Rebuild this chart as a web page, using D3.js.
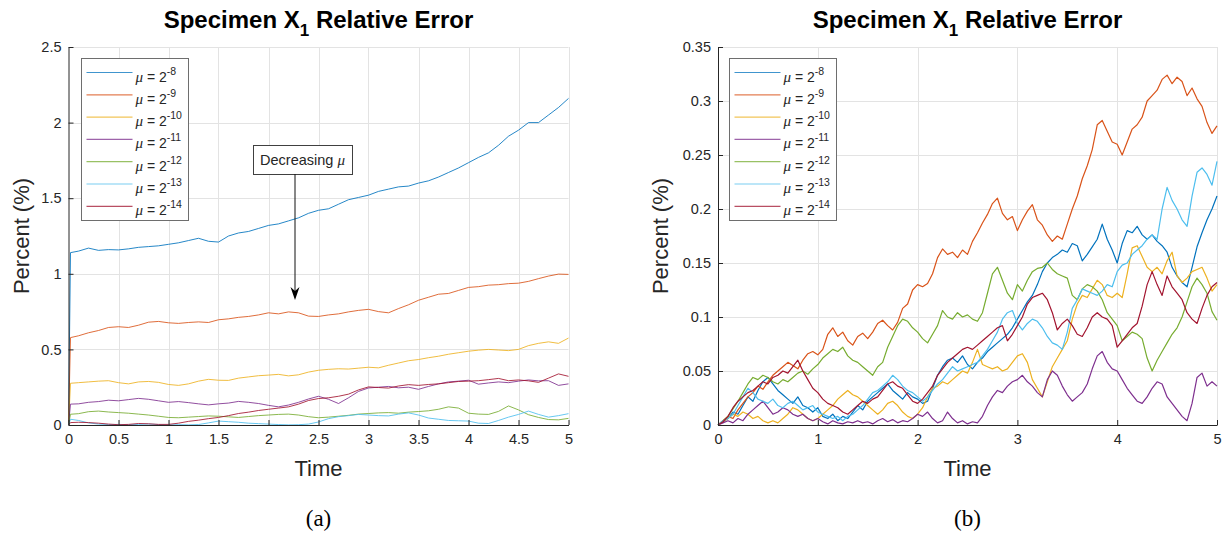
<!DOCTYPE html>
<html>
<head>
<meta charset="utf-8">
<script src="https://cdn.jsdelivr.net/npm/d3@7"></script>
<style>
  body { margin: 0; background: #fff; }
  svg { display: block; }
</style>
</head>
<body>
<svg id="chart" width="1229" height="535"></svg>
<script>
// ---- series definitions ----
const muExponents = ["-8", "-9", "-10", "-11", "-12", "-13", "-14"];
const seriesColors = ["#0072BD", "#D95319", "#EDB120", "#7E2F8E", "#77AC30", "#4DBEEE", "#A2142F"];

// ---- panel (a): sample times and relative error (%) ----
const timeA = [0, 0.02, 0.1, 0.2, 0.3, 0.4, 0.5, 0.6, 0.7, 0.8, 0.9, 1.0,
  1.1, 1.2, 1.3, 1.4, 1.5, 1.6, 1.7, 1.8, 1.9, 2.0, 2.1, 2.2, 2.3, 2.4, 2.5,
  2.6, 2.7, 2.8, 2.9, 3.0, 3.1, 3.2, 3.3, 3.4, 3.5, 3.6, 3.7, 3.8, 3.9, 4.0,
  4.1, 4.2, 4.3, 4.4, 4.5, 4.6, 4.7, 4.8, 4.9, 5.0];
const errA_mu8 = [0, 1.14, 1.15, 1.17, 1.155, 1.16, 1.158, 1.165, 1.175, 1.18, 1.185, 1.195,
  1.205, 1.22, 1.235, 1.215, 1.21, 1.25, 1.27, 1.28, 1.3, 1.32, 1.33, 1.35, 1.37, 1.4, 1.42,
  1.43, 1.46, 1.49, 1.505, 1.52, 1.545, 1.56, 1.575, 1.58, 1.6, 1.615, 1.64, 1.67, 1.7, 1.735,
  1.77, 1.8, 1.85, 1.91, 1.95, 2.0, 2.0, 2.05, 2.1, 2.16];
const errA_mu9 = [0, 0.578, 0.59, 0.61, 0.625, 0.645, 0.65, 0.645, 0.66, 0.68, 0.685, 0.676,
  0.672, 0.678, 0.682, 0.678, 0.696, 0.702, 0.712, 0.718, 0.728, 0.742, 0.735, 0.748, 0.742, 0.72, 0.718,
  0.728, 0.735, 0.748, 0.758, 0.765, 0.75, 0.742, 0.77, 0.795, 0.825, 0.845, 0.865, 0.87, 0.89, 0.91,
  0.915, 0.925, 0.928, 0.935, 0.938, 0.95, 0.968, 0.985, 0.998, 0.996];
const errA_mu10 = [0, 0.276, 0.28, 0.285, 0.29, 0.293, 0.28, 0.272, 0.285, 0.288, 0.282, 0.268,
  0.262, 0.272, 0.29, 0.302, 0.296, 0.295, 0.31, 0.318, 0.326, 0.33, 0.335, 0.325, 0.332, 0.35, 0.362,
  0.368, 0.372, 0.37, 0.376, 0.382, 0.378, 0.395, 0.41, 0.425, 0.433, 0.445, 0.455, 0.468, 0.478, 0.488,
  0.495, 0.5, 0.496, 0.492, 0.5, 0.525, 0.54, 0.55, 0.54, 0.575];
const errA_mu11 = [0, 0.138, 0.14, 0.15, 0.155, 0.164, 0.16, 0.168, 0.176, 0.17, 0.16, 0.15,
  0.155, 0.148, 0.14, 0.133, 0.14, 0.145, 0.156, 0.15, 0.142, 0.13, 0.12, 0.132, 0.15, 0.172, 0.19,
  0.17, 0.142, 0.18, 0.222, 0.245, 0.25, 0.255, 0.246, 0.25, 0.236, 0.255, 0.272, 0.285, 0.29, 0.296,
  0.27, 0.278, 0.285, 0.28, 0.29, 0.298, 0.292, 0.293, 0.262, 0.272];
const errA_mu12 = [0, 0.071, 0.075, 0.088, 0.092, 0.086, 0.082, 0.078, 0.072, 0.066, 0.058, 0.05,
  0.048, 0.052, 0.056, 0.06, 0.058, 0.054, 0.05, 0.056, 0.062, 0.066, 0.07, 0.072, 0.066, 0.055, 0.048,
  0.052, 0.058, 0.064, 0.072, 0.076, 0.08, 0.082, 0.078, 0.085, 0.089, 0.094, 0.104, 0.12, 0.112, 0.078,
  0.072, 0.07, 0.09, 0.126, 0.1, 0.068, 0.05, 0.036, 0.034, 0.044];
const errA_mu13 = [0, 0.038, 0.03, 0.014, 0.006, 0.003, 0.004, 0.002, 0.004, 0.006, 0.003, 0.001,
  0.002, 0.001, 0.003, 0.014, 0.026, 0.022, 0.018, 0.012, 0.009, 0.006, 0.003, 0.001, 0.002, 0.006, 0.02,
  0.042, 0.055, 0.062, 0.07, 0.066, 0.062, 0.06, 0.072, 0.08, 0.066, 0.046, 0.038, 0.03, 0.028, 0.026,
  0.012, 0.01, 0.03, 0.052, 0.07, 0.092, 0.07, 0.052, 0.062, 0.075];
const errA_mu14 = [0, 0.016, 0.018, 0.016, 0.012, 0.006, 0.002, 0.004, 0.01, 0.008, 0.004, 0.004,
  0.012, 0.024, 0.032, 0.042, 0.05, 0.062, 0.076, 0.085, 0.096, 0.104, 0.112, 0.12, 0.138, 0.162, 0.175,
  0.18, 0.19, 0.204, 0.232, 0.252, 0.248, 0.244, 0.258, 0.267, 0.262, 0.268, 0.272, 0.28, 0.288, 0.29,
  0.293, 0.3, 0.308, 0.293, 0.298, 0.292, 0.282, 0.31, 0.338, 0.322];

// ---- panel (b): sample times and relative error (%) ----
const timeB = [0, 0.05, 0.1, 0.15, 0.2, 0.25, 0.3, 0.35, 0.4, 0.45,
  0.5, 0.55, 0.6, 0.65, 0.7, 0.75, 0.8, 0.85, 0.9, 0.95,
  1.0, 1.05, 1.1, 1.15, 1.2, 1.25, 1.3, 1.35, 1.4, 1.45,
  1.5, 1.55, 1.6, 1.65, 1.7, 1.75, 1.8, 1.85, 1.9, 1.95,
  2.0, 2.05, 2.1, 2.15, 2.2, 2.25, 2.3, 2.35, 2.4, 2.45,
  2.5, 2.55, 2.6, 2.65, 2.7, 2.75, 2.8, 2.85, 2.9, 2.95,
  3.0, 3.05, 3.1, 3.15, 3.2, 3.25, 3.3, 3.35, 3.4, 3.45,
  3.5, 3.55, 3.6, 3.65, 3.7, 3.75, 3.8, 3.85, 3.9, 3.95,
  4.0, 4.05, 4.1, 4.15, 4.2, 4.25, 4.3, 4.35, 4.4, 4.45,
  4.5, 4.55, 4.6, 4.65, 4.7, 4.75, 4.8, 4.85, 4.9, 4.95, 5.0];
const errB_mu8 = [0, 0.003, 0.006, 0.012, 0.01, 0.018, 0.026, 0.022, 0.032, 0.04,
  0.044, 0.038, 0.032, 0.028, 0.024, 0.02, 0.026, 0.018, 0.016, 0.012,
  0.016, 0.008, 0.006, 0.01, 0.004, 0.008, 0.006, 0.012, 0.018, 0.014,
  0.022, 0.026, 0.03, 0.034, 0.038, 0.032, 0.028, 0.024, 0.03, 0.026,
  0.024, 0.02, 0.022, 0.034, 0.046, 0.054, 0.06, 0.062, 0.058, 0.064,
  0.056, 0.052, 0.058, 0.062, 0.068, 0.072, 0.076, 0.08, 0.084, 0.09,
  0.098, 0.106, 0.114, 0.12, 0.13, 0.142, 0.15, 0.155, 0.158, 0.162,
  0.16, 0.168, 0.166, 0.152, 0.158, 0.165, 0.172, 0.186, 0.172, 0.162,
  0.15, 0.168, 0.18, 0.178, 0.184, 0.176, 0.172, 0.176, 0.17, 0.166,
  0.16, 0.146, 0.138, 0.132, 0.128, 0.146, 0.165, 0.178, 0.19, 0.2, 0.212];
const errB_mu9 = [0, 0.004, 0.008, 0.006, 0.014, 0.02, 0.026, 0.03, 0.036, 0.033,
  0.04, 0.046, 0.05, 0.054, 0.058, 0.055, 0.052, 0.06, 0.066, 0.068,
  0.065, 0.07, 0.084, 0.09, 0.082, 0.086, 0.078, 0.074, 0.082, 0.085,
  0.08, 0.086, 0.094, 0.097, 0.092, 0.088, 0.095, 0.108, 0.112, 0.125,
  0.13, 0.128, 0.131, 0.14, 0.155, 0.163, 0.158, 0.16, 0.155, 0.162,
  0.158, 0.17, 0.178, 0.187, 0.195, 0.205, 0.21, 0.196, 0.19, 0.193,
  0.18, 0.19, 0.198, 0.204, 0.19, 0.185, 0.176, 0.17, 0.175, 0.172,
  0.186, 0.2, 0.212, 0.228, 0.24, 0.255, 0.278, 0.282, 0.272, 0.262,
  0.26, 0.25, 0.262, 0.274, 0.278, 0.285, 0.3, 0.305, 0.31, 0.32,
  0.324, 0.316, 0.322, 0.318, 0.305, 0.312, 0.302, 0.295, 0.28, 0.27, 0.277];
const errB_mu10 = [0, 0.003, 0.006, 0.01, 0.008, 0.012, 0.01, 0.006, 0.008, 0.004,
  0.002, 0.004, 0.002, 0.006, 0.01, 0.016, 0.014, 0.01, 0.006, 0.004,
  0.006, 0.01, 0.014, 0.018, 0.024, 0.028, 0.032, 0.028, 0.026, 0.022,
  0.018, 0.014, 0.01, 0.014, 0.02, 0.022, 0.018, 0.012, 0.008, 0.006,
  0.01, 0.016, 0.026, 0.034, 0.036, 0.04, 0.038, 0.042, 0.046, 0.05,
  0.048, 0.058, 0.07, 0.056, 0.054, 0.052, 0.054, 0.05, 0.052, 0.058,
  0.064, 0.066, 0.058, 0.042, 0.034, 0.026, 0.04, 0.054, 0.062, 0.07,
  0.078, 0.098, 0.112, 0.12, 0.118, 0.126, 0.134, 0.13, 0.12, 0.118,
  0.122, 0.118, 0.14, 0.164, 0.166, 0.156, 0.146, 0.142, 0.146, 0.14,
  0.152, 0.16, 0.138, 0.132, 0.136, 0.142, 0.144, 0.146, 0.136, 0.124, 0.13];
const errB_mu11 = [0, 0.002, 0.004, 0.002, 0.006, 0.004, 0.01, 0.014, 0.018, 0.022,
  0.016, 0.01, 0.012, 0.016, 0.014, 0.01, 0.008, 0.01, 0.006, 0.004,
  0.006, 0.003, 0.001, 0.004, 0.002, 0.001, 0.003, 0.002, 0.004, 0.002,
  0.003, 0.001, 0.004, 0.006, 0.003, 0.005, 0.002, 0.004, 0.003, 0.006,
  0.01, 0.008, 0.012, 0.006, 0.002, 0.004, 0.012, 0.006, 0.002, 0.004,
  0.001, 0.003, 0.002, 0.008, 0.018, 0.026, 0.032, 0.03, 0.036, 0.04,
  0.042, 0.046, 0.04, 0.036, 0.03, 0.026, 0.042, 0.05, 0.046, 0.036,
  0.028, 0.022, 0.026, 0.03, 0.038, 0.052, 0.064, 0.068, 0.058, 0.052,
  0.05, 0.042, 0.034, 0.028, 0.022, 0.02, 0.026, 0.034, 0.04, 0.038,
  0.026, 0.02, 0.014, 0.008, 0.004, 0.02, 0.044, 0.048, 0.036, 0.04, 0.036];
const errB_mu12 = [0, 0.004, 0.008, 0.015, 0.022, 0.03, 0.038, 0.044, 0.042, 0.046,
  0.044, 0.04, 0.038, 0.042, 0.04, 0.044, 0.048, 0.05, 0.047, 0.052,
  0.056, 0.062, 0.066, 0.07, 0.068, 0.072, 0.064, 0.06, 0.058, 0.054,
  0.05, 0.046, 0.054, 0.058, 0.072, 0.082, 0.092, 0.098, 0.096, 0.09,
  0.086, 0.08, 0.076, 0.084, 0.092, 0.106, 0.1, 0.098, 0.104, 0.1,
  0.102, 0.098, 0.096, 0.104, 0.122, 0.14, 0.146, 0.134, 0.122, 0.116,
  0.13, 0.124, 0.134, 0.142, 0.145, 0.146, 0.15, 0.144, 0.14, 0.138,
  0.136, 0.12, 0.116, 0.126, 0.13, 0.128, 0.124, 0.116, 0.104, 0.098,
  0.092, 0.078, 0.082, 0.086, 0.084, 0.08, 0.062, 0.05, 0.06, 0.068,
  0.076, 0.084, 0.09, 0.1, 0.114, 0.128, 0.136, 0.13, 0.122, 0.105, 0.097];
const errB_mu13 = [0, 0.004, 0.006, 0.01, 0.018, 0.026, 0.034, 0.03, 0.024, 0.022,
  0.02, 0.024, 0.018, 0.016, 0.02, 0.022, 0.018, 0.014, 0.016, 0.018,
  0.012, 0.01, 0.008, 0.006, 0.008, 0.004, 0.008, 0.01, 0.014, 0.018,
  0.024, 0.03, 0.032, 0.036, 0.04, 0.046, 0.042, 0.036, 0.032, 0.03,
  0.026, 0.022, 0.026, 0.032, 0.038, 0.042, 0.048, 0.054, 0.05, 0.052,
  0.054, 0.056, 0.058, 0.064, 0.07, 0.078, 0.086, 0.098, 0.104, 0.106,
  0.094, 0.088, 0.094, 0.098, 0.096, 0.09, 0.082, 0.076, 0.074, 0.07,
  0.086, 0.108, 0.116, 0.126, 0.124, 0.122, 0.12, 0.124, 0.13, 0.128,
  0.142, 0.148, 0.15, 0.158, 0.162, 0.166, 0.172, 0.176, 0.172, 0.2,
  0.22, 0.208, 0.2, 0.19, 0.184, 0.212, 0.234, 0.238, 0.232, 0.222, 0.244];
const errB_mu14 = [0, 0.003, 0.008, 0.016, 0.022, 0.026, 0.03, 0.032, 0.036, 0.04,
  0.038, 0.044, 0.046, 0.05, 0.048, 0.054, 0.06, 0.05, 0.042, 0.034,
  0.03, 0.024, 0.02, 0.018, 0.016, 0.012, 0.01, 0.014, 0.018, 0.022,
  0.02, 0.024, 0.026, 0.032, 0.038, 0.04, 0.036, 0.034, 0.028, 0.022,
  0.02, 0.024, 0.03, 0.036, 0.046, 0.052, 0.058, 0.062, 0.066, 0.07,
  0.072, 0.07, 0.074, 0.078, 0.082, 0.086, 0.09, 0.092, 0.078, 0.084,
  0.092, 0.1, 0.112, 0.118, 0.12, 0.122, 0.116, 0.104, 0.088, 0.094,
  0.098, 0.092, 0.084, 0.082, 0.09, 0.1, 0.104, 0.1, 0.098, 0.092,
  0.072, 0.078, 0.084, 0.09, 0.094, 0.11, 0.13, 0.142, 0.13, 0.12,
  0.138, 0.128, 0.122, 0.116, 0.104, 0.098, 0.094, 0.108, 0.12, 0.128, 0.132];

// ---- axis ticks ----
const xTicksA = [0, 0.5, 1, 1.5, 2, 2.5, 3, 3.5, 4, 4.5, 5];
const yTicksA = [0, 0.5, 1, 1.5, 2, 2.5];
const xTicksB = [0, 1, 2, 3, 4, 5];
const yTicksB = [0, 0.05, 0.1, 0.15, 0.2, 0.25, 0.3, 0.35];

const seriesA = [errA_mu8, errA_mu9, errA_mu10, errA_mu11, errA_mu12, errA_mu13, errA_mu14];
const seriesB = [errB_mu8, errB_mu9, errB_mu10, errB_mu11, errB_mu12, errB_mu13, errB_mu14];

const svg = d3.select("#chart");
const SANS = "'Liberation Sans', Arial, Helvetica, sans-serif";
const INK = "#262626";

function fmtTick(d) {
  return d === 0 ? "0" : String(+d.toFixed(2));
}

function drawPanel(cfg) {
  const g = svg.append("g");
  const x = d3.scaleLinear().domain([0, 5]).range([cfg.left, cfg.right]);
  const y = d3.scaleLinear().domain([0, cfg.yMax]).range([425, 47]);

  // grid
  const grid = g.append("g").attr("stroke", "#e3e3e3").attr("stroke-width", 1);
  grid.selectAll("line.gx").data(cfg.xTicks.filter(d => d > 0)).join("line")
    .attr("x1", d => Math.round(x(d)) + 0.5).attr("x2", d => Math.round(x(d)) + 0.5)
    .attr("y1", y(cfg.yMax)).attr("y2", y(0));
  grid.selectAll("line.gy").data(cfg.yTicks.filter(d => d > 0)).join("line")
    .attr("y1", d => Math.round(y(d)) + 0.5).attr("y2", d => Math.round(y(d)) + 0.5)
    .attr("x1", x(0)).attr("x2", x(5));

  // series
  const line = d3.line().x(d => x(d[0])).y(d => y(d[1]));
  const lines = g.append("g").attr("fill", "none")
    .attr("stroke-width", cfg.lineWidth).attr("stroke-linejoin", "round");
  cfg.series.forEach((vals, i) => {
    const pts = d3.zip(cfg.time, vals);
    lines.append("path").datum(pts)
      .attr("stroke", seriesColors[i])
      .attr("stroke-opacity", cfg.lineOpacity)
      .attr("d", line);
  });

  // axes
  const xAxis = d3.axisBottom(x).tickValues(cfg.xTicks).tickFormat(fmtTick)
    .tickSizeInner(-5).tickSizeOuter(0).tickPadding(9);
  const yAxis = d3.axisLeft(y).tickValues(cfg.yTicks).tickFormat(fmtTick)
    .tickSizeInner(-5).tickSizeOuter(0).tickPadding(7);
  const gx = g.append("g").attr("transform", `translate(0,${y(0)})`).call(xAxis);
  const gy = g.append("g").attr("transform", `translate(${x(0)},0)`).call(yAxis);
  [gx, gy].forEach(a => {
    a.select(".domain").attr("stroke", INK);
    a.selectAll(".tick line").attr("stroke", INK);
    a.selectAll(".tick text").attr("fill", INK)
      .style("font-family", SANS).style("font-size", "14.5px");
  });

  // title with subscript
  const cx = (x(0) + x(5)) / 2;
  const title = g.append("text").attr("x", cx).attr("y", 28)
    .attr("text-anchor", "middle").attr("fill", "#000")
    .style("font-family", SANS).style("font-weight", "bold").style("font-size", "24px");
  title.append("tspan").text("Specimen X");
  title.append("tspan").attr("dy", 8).style("font-size", "17px").text("1");
  title.append("tspan").attr("dy", -8).text(" Relative Error");

  // axis labels
  g.append("text").attr("x", cx).attr("y", 476).attr("text-anchor", "middle")
    .attr("fill", INK).style("font-family", SANS).style("font-size", "22px").text("Time");
  g.append("text").attr("transform", `translate(${x(0) - cfg.yLabelGap},236) rotate(-90)`)
    .attr("text-anchor", "middle").attr("fill", INK)
    .style("font-family", SANS).style("font-size", "22px").text("Percent (%)");

  // caption
  g.append("text").attr("x", cx).attr("y", 526).attr("text-anchor", "middle")
    .attr("fill", "#000").style("font-family", "'Liberation Serif', 'DejaVu Serif', serif")
    .style("font-size", "23px").text(cfg.caption);

  // legend
  const lg = g.append("g").attr("transform", `translate(${cfg.legendX},58.5)`);
  lg.append("rect").attr("x", 0).attr("y", 0).attr("width", 107).attr("height", 162)
    .attr("fill", "#fff").attr("stroke", "#6e6e6e").attr("stroke-width", 1);
  muExponents.forEach((e, i) => {
    const ry = 14 + i * 22.3;
    lg.append("line").attr("x1", 5).attr("x2", 51).attr("y1", ry).attr("y2", ry)
      .attr("stroke", seriesColors[i]).attr("stroke-opacity", 0.75).attr("stroke-width", 1.2);
    const t = lg.append("text").attr("x", 54).attr("y", ry + 9).attr("fill", INK)
      .style("font-family", SANS).style("font-size", "14px");
    t.append("tspan").style("font-family", "'Liberation Serif', serif")
      .style("font-style", "italic").style("font-size", "15px").text("\u03bc");
    t.append("tspan").text(" = 2");
    t.append("tspan").attr("dy", -7).style("font-size", "10.5px").text(e);
  });

  return { g, x, y };
}

const pa = drawPanel({
  left: 68.5, right: 568.5, yMax: 2.5, xTicks: xTicksA, yTicks: yTicksA,
  time: timeA, series: seriesA, lineWidth: 1, lineOpacity: 0.85,
  legendX: 81.5, yLabelGap: 40, caption: "(a)"
});
drawPanel({
  left: 718, right: 1217, yMax: 0.35, xTicks: xTicksB, yTicks: yTicksB,
  time: timeB, series: seriesB, lineWidth: 1.2, lineOpacity: 1,
  legendX: 729.5, yLabelGap: 50, caption: "(b)"
});

// annotation in panel (a): arrow toward the smaller step sizes
(function () {
  const { g, x, y } = pa;
  const ax = x(2.265);
  const note = g.append("g");
  const txt = note.append("text").attr("x", x(2.34)).attr("y", y(1.755) + 5)
    .attr("text-anchor", "middle").attr("fill", INK)
    .style("font-family", SANS).style("font-size", "14.5px");
  txt.append("tspan").text("Decreasing ");
  txt.append("tspan").style("font-family", "'Liberation Serif', serif")
    .style("font-style", "italic").style("font-size", "15px").text("\u03bc");
  const bb = txt.node().getBBox();
  note.insert("rect", "text")
    .attr("x", Math.round(bb.x - 7) + 0.5).attr("y", Math.round(y(1.852)) + 0.5)
    .attr("width", Math.round(bb.width + 14)).attr("height", Math.round(y(1.66) - y(1.852)))
    .attr("fill", "#fff").attr("stroke", "#404040").attr("stroke-width", 1);
  const tipY = y(0.827);
  note.append("line").attr("x1", ax).attr("x2", ax)
    .attr("y1", y(1.66)).attr("y2", tipY - 8).attr("stroke", "#111").attr("stroke-width", 1);
  note.append("path")
    .attr("d", `M${ax},${tipY} L${ax - 4.5},${tipY - 13} L${ax},${tipY - 9} L${ax + 4.5},${tipY - 13} Z`)
    .attr("fill", "#000");
})();
</script>
</body>
</html>
